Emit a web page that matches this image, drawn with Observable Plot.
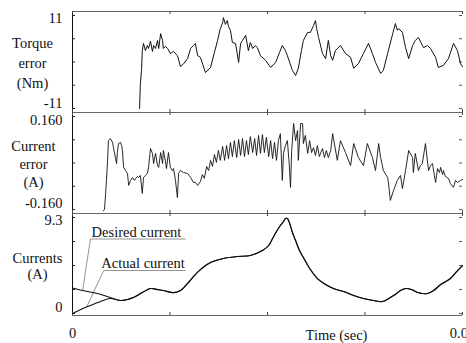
<!DOCTYPE html>
<html><head><meta charset="utf-8">
<script src="https://cdn.jsdelivr.net/npm/d3@7"></script>
<script src="https://cdn.jsdelivr.net/npm/@observablehq/plot@0.6"></script>
<style>
body{margin:0;background:#fff;}
#chart{width:466px;height:343px;overflow:hidden;position:relative;background:#fff;}
#chart svg{position:absolute;left:0;}
#chart svg, #chart svg text{font-family:"Liberation Serif","DejaVu Serif",serif !important;font-weight:normal;}
</style></head><body><div id="chart"></div>
<script>
// ---------- data (time in ms) ----------
const torqueTimeMs = [1.72,1.73,1.74,1.77,1.79,1.82,1.87,1.92,1.95,2.00,
2.05,2.08,2.13,2.18,2.21,2.26,2.31,2.33,2.38,2.44,
2.51,2.59,2.69,2.77,2.85,2.95,3.03,3.10,3.15,3.21,
3.28,3.41,3.54,3.64,3.72,3.79,3.85,3.87,3.92,3.97,
4.00,4.05,4.10,4.18,4.26,4.31,4.36,4.44,4.51,4.56,
4.62,4.69,4.74,4.82,4.95,5.08,5.21,5.31,5.38,5.46,
5.51,5.64,5.72,5.79,5.87,5.92,6.03,6.10,6.18,6.23,
6.26,6.31,6.41,6.49,6.56,6.62,6.67,6.74,6.87,7.00,
7.13,7.21,7.33,7.46,7.59,7.69,7.77,7.90,7.97,8.08,
8.21,8.28,8.33,8.36,8.46,8.54,8.62,8.72,8.79,8.87,
9.00,9.10,9.18,9.31,9.38,9.51,9.64,9.77,9.87,9.95,
10.00];
const torqueErrorNm = [-11.0,-7.9,-5.1,-2.0,2.7,4.4,2.7,3.9,3.2,4.9,
2.5,3.9,3.2,5.1,3.2,6.7,5.1,3.2,3.7,3.2,
2.0,2.5,1.5,-1.1,-0.4,0.8,3.2,3.9,4.4,1.5,
1.1,-2.5,-1.3,2.3,5.1,7.9,9.3,10.5,8.9,9.8,
8.4,7.5,4.6,4.4,-0.1,4.4,5.1,6.3,2.7,4.6,
3.2,3.9,3.4,1.5,0.4,-1.3,-0.1,2.3,3.9,2.7,
1.5,-2.0,-3.2,-1.5,2.7,5.1,7.0,7.0,8.6,9.8,
7.9,5.8,2.0,0.8,5.1,1.5,0.4,2.7,3.9,2.0,
1.1,-1.5,-0.4,2.0,4.4,2.0,-0.1,-2.7,-2.0,2.0,
6.7,9.1,7.5,7.9,7.0,3.4,0.8,3.9,5.1,5.8,
3.4,3.9,3.2,1.1,-1.3,-0.8,0.8,4.4,2.7,-0.4,
-1.1];

const currentErrorTimeMs = [0.79,0.82,0.85,0.90,0.92,0.97,1.03,1.05,1.10,1.13,
1.15,1.18,1.23,1.26,1.28,1.31,1.36,1.41,1.44,1.49,
1.54,1.59,1.62,1.67,1.69,1.74,1.79,1.82,1.87,1.92,
1.95,2.00,2.05,2.08,2.13,2.18,2.21,2.26,2.31,2.33,
2.38,2.41,2.46,2.51,2.56,2.59,2.64,2.69,2.72,2.77,
2.85,2.95,3.03,3.10,3.15,3.21,3.28,3.33,3.38,3.44,
3.49,3.54,3.59,3.64,3.69,3.74,3.79,3.85,3.90,3.95,
4.00,4.05,4.10,4.15,4.21,4.26,4.31,4.36,4.41,4.46,
4.51,4.56,4.62,4.67,4.72,4.77,4.82,4.87,4.92,4.97,
5.03,5.08,5.13,5.18,5.23,5.28,5.33,5.38,5.41,5.46,
5.51,5.56,5.59,5.62,5.67,5.72,5.77,5.79,5.85,5.90,
5.92,5.97,6.03,6.08,6.13,6.18,6.23,6.28,6.33,6.36,
6.41,6.46,6.51,6.56,6.62,6.67,6.79,6.87,7.00,7.13,
7.21,7.33,7.46,7.56,7.69,7.77,7.85,7.90,7.97,8.08,
8.10,8.15,8.23,8.33,8.41,8.46,8.54,8.62,8.72,8.74,
8.79,8.87,8.92,8.97,9.05,9.13,9.18,9.23,9.28,9.31,
9.36,9.41,9.44,9.49,9.51,9.56,9.64,9.69,9.77,9.82,
9.87,9.95,10.00];
const currentErrorA = [-0.165,-0.160,-0.105,0.009,0.077,0.084,0.071,0.053,0.019,-0.002,
0.036,0.067,0.071,0.060,0.043,-0.015,-0.026,-0.036,-0.077,-0.060,
-0.050,-0.060,-0.053,-0.046,-0.050,-0.043,-0.105,-0.050,-0.043,-0.036,
-0.015,0.050,0.033,-0.002,0.033,-0.009,-0.015,0.036,-0.002,0.043,
0.009,-0.019,0.036,-0.015,-0.026,-0.019,-0.060,-0.119,-0.036,-0.026,
-0.033,-0.036,-0.050,-0.067,-0.067,-0.077,-0.064,-0.040,-0.053,-0.012,
-0.026,0.009,-0.012,0.029,0.002,0.043,0.009,0.057,0.009,0.060,
0.015,0.071,0.022,0.077,0.019,0.081,0.026,0.084,0.022,0.077,
0.029,0.091,0.036,0.084,0.026,0.095,0.033,0.098,0.036,0.088,
0.022,0.077,0.015,0.071,0.009,0.077,0.101,-0.060,0.033,0.060,
0.077,-0.009,-0.084,0.043,0.136,0.077,0.112,0.009,0.136,0.136,
0.067,0.095,0.033,0.077,0.036,0.053,0.026,0.060,0.022,0.033,
0.050,0.019,0.043,0.019,0.043,0.101,0.009,0.077,0.036,-0.009,
0.067,0.019,-0.009,0.067,0.019,-0.026,0.067,0.019,-0.026,-0.050,
-0.067,-0.129,-0.095,-0.060,-0.043,-0.088,-0.026,0.043,0.019,-0.033,
0.033,-0.026,-0.009,-0.002,0.067,-0.026,-0.009,-0.002,-0.043,-0.067,
-0.019,-0.033,-0.015,-0.040,-0.026,-0.046,-0.053,-0.071,-0.084,-0.060,
-0.067,-0.060,-0.057];

const desiredTimeMs = [0.00,0.26,0.64,0.97,1.23,1.41,1.56,1.79,2.00,2.18,
2.33,2.59,2.77,2.95,3.10,3.28,3.54,3.87,4.23,4.56,
4.87,5.03,5.13,5.23,5.33,5.41,5.46,5.51,5.56,5.64,
5.72,5.82,5.92,6.10,6.28,6.49,6.69,6.95,7.21,7.46,
7.72,7.95,8.15,8.31,8.41,8.56,8.69,8.85,8.97,9.10,
9.26,9.44,9.69,9.85,10.00];
const desiredCurrentA = [2.47,2.23,1.94,1.55,1.26,1.36,1.55,2.03,2.42,2.32,
2.23,2.03,2.23,2.91,3.58,4.26,4.94,5.33,5.52,5.62,
6.10,6.59,7.27,7.94,8.53,8.91,9.20,9.20,8.82,7.85,
7.07,6.10,5.43,4.26,3.39,2.81,2.42,2.13,1.74,1.45,
1.26,1.16,1.55,1.94,2.23,2.42,2.32,2.03,1.94,1.94,
2.23,2.81,3.39,4.07,4.65];
// actual current: own start-up segment, then it follows the desired current
const actualStartTimeMs = [0.00,0.21,0.46,0.72,0.97];
const actualStartA = [0.00,0.39,0.78,1.16,1.45];

// axis ticks and labels
const xTicksSec = [0, 0.0025, 0.005, 0.0075, 0.01];
const xTickLabels = ["0", "0.01"];
const torqueTicks = [-11, -5.5, 0, 5.5, 11];
const torqueTickLabels = ["11", "-11"];
const currentErrTicks = [-0.16, -0.08, 0, 0.08, 0.16];
const currentErrTickLabels = ["0.160", "-0.160"];
const currentsTicks = [0, 2.325, 4.65, 6.975, 9.3];
const currentsTickLabels = ["9.3", "0"];
const torqueDomain = [-11.95, 11.95];
const currentErrDomain = [-0.174, 0.174];
const currentsDomain = [-0.19, 9.69];

// annotation labels (data coords)
const annoText = ["Desired current", "Actual current"];
const annoTextX = [0.49, 0.74];
const annoLineX1 = [0.46, 0.80];
const annoLineX2 = [2.90, 2.90];
const annoLineY = [7.22, 4.17];
const annoTargetX = [0.26, 0.36];
const annoTargetY = [2.23, 0.62];

// ---------- build ----------
const s = ms => ms / 1000;
const toRows = (t, v) => t.map((d, i) => ({t: s(d), v: v[i]}));
const torque = toRows(torqueTimeMs, torqueErrorNm);
const curErr = toRows(currentErrorTimeMs, currentErrorA);
const desired = toRows(desiredTimeMs, desiredCurrentA);
const actual = toRows(actualStartTimeMs, actualStartA)
  .concat(desired.filter(d => d.t >= s(1.2)));
const anno = annoText.map((text, i) => ({
  text, tx: s(annoTextX[i]), x1: s(annoLineX1[i]), x2: s(annoLineX2[i]),
  y: annoLineY[i], tx2: s(annoTargetX[i]), ty2: annoTargetY[i]
}));

const W = 466, ML = 72, MR = 4;
const frameW = W - ML - MR;
const FONT = "Liberation Serif";
const FS = 14.5;
const T = {fontSize: FS, fontFamily: FONT, fill: "#111"};

function panel(o) {
  const fh = o.height - o.marginTop - o.marginBottom;
  const svg = Plot.plot({
    width: W, height: o.height,
    marginLeft: ML, marginRight: MR, marginTop: o.marginTop, marginBottom: o.marginBottom,
    style: {background: "transparent", overflow: "visible", color: "#111"},
    x: {domain: [0, 0.01], axis: null},
    y: {domain: o.domain, axis: null},
    marks: [
      Plot.ruleY(o.domain, {stroke: "#666", strokeWidth: 1}),
      Plot.ruleX([0], {stroke: "#111", strokeWidth: 1}),
      Plot.ruleY(o.ticks, {insetRight: frameW - 3, stroke: "#222"}),
      Plot.ruleY(o.ticks, {insetLeft: frameW - 3, stroke: "#555"}),
      Plot.ruleX(xTicksSec, {insetTop: fh - 3, stroke: "#444"}),
      Plot.ruleX(xTicksSec, {insetBottom: fh - 3, stroke: "#444"}),
      Plot.text([o.tickLabels[0]], {...T, y: o.ticks[o.ticks.length - 1], frameAnchor: "left", dx: -10, dy: o.topDy, textAnchor: "end", lineAnchor: "middle"}),
      Plot.text([o.tickLabels[1]], {...T, y: o.ticks[0], frameAnchor: "left", dx: -10, dy: o.botDy, textAnchor: "end", lineAnchor: "middle"}),
      Plot.text([o.title], {...T, y: o.titleY, frameAnchor: "left", dx: o.titleDx, textAnchor: "middle", lineAnchor: "middle", lineHeight: o.lineHeight}),
      ...o.marks
    ]
  });
  svg.style.top = o.top + "px";
  return svg;
}

const chart = document.getElementById("chart");

chart.append(panel({
  top: 0, height: 113, marginTop: 11, marginBottom: 1,
  domain: torqueDomain, ticks: torqueTicks, tickLabels: torqueTickLabels, topDy: 3, botDy: -5,
  title: "Torque\nerror\n(Nm)", titleY: 0, titleDx: -40, lineHeight: 1.38,
  marks: [Plot.line(torque, {x: "t", y: "v", stroke: "#111", strokeWidth: 1})]
}));

chart.append(panel({
  top: 111, height: 103, marginTop: 1, marginBottom: 1,
  domain: currentErrDomain, ticks: currentErrTicks, tickLabels: currentErrTickLabels, topDy: 4, botDy: -6,
  title: "Current\nerror\n(A)", titleY: 0, titleDx: -39, lineHeight: 1.24,
  marks: [Plot.line(curErr, {x: "t", y: "v", stroke: "#111", strokeWidth: 0.9})]
}));

chart.append(panel({
  top: 212, height: 131, marginTop: 1, marginBottom: 28,
  domain: currentsDomain, ticks: currentsTicks, tickLabels: currentsTickLabels, topDy: 3, botDy: -6,
  title: "Currents\n(A)", titleY: 4.65, titleDx: -35, lineHeight: 1.1,
  marks: [
    Plot.link(anno, {x1: "x1", x2: "x2", y1: "y", y2: "y", stroke: "#777", strokeWidth: 0.8}),
    Plot.link(anno, {x1: "x1", y1: "y", x2: "tx2", y2: "ty2", stroke: "#777", strokeWidth: 0.8}),
    Plot.line(desired, {x: "t", y: "v", stroke: "#111", strokeWidth: 1.1, curve: "catmull-rom"}),
    Plot.line(actual, {x: "t", y: "v", stroke: "#111", strokeWidth: 1.1, curve: "catmull-rom"}),
    Plot.text(anno, {...T, x: "tx", y: "y", text: "text", textAnchor: "start", lineAnchor: "bottom", dy: -2}),
    Plot.text(xTickLabels, {...T, x: [0, 0.01], frameAnchor: "bottom", dy: 18, lineAnchor: "middle"}),
    Plot.text(["Time (sec)"], {...T, frameAnchor: "bottom", dx: 69, dy: 20, lineAnchor: "middle"})
  ]
}));
</script>
</body></html>
